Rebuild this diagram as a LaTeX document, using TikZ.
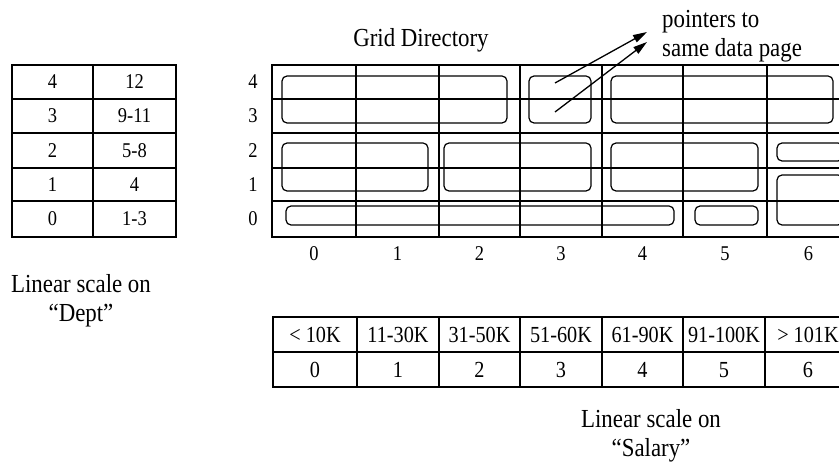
\documentclass[tikz,border=0pt]{standalone}
\usepackage{fontspec}
\setmainfont[FakeStretch=0.88]{Liberation Serif}
\usetikzlibrary{arrows.meta}
\begin{document}
\begin{tikzpicture}[x=1pt,y=-1pt,
  gridline/.style={line width=2.6pt},
  frame/.style={line width=2pt},
  bucket/.style={draw,line width=1.2pt,rounded corners=5pt},
  cell/.style={font=\fontsize{21}{25}\selectfont, inner sep=0pt, anchor=center},
  scell/.style={font=\fontsize{23}{27}\selectfont, inner sep=0pt, anchor=center},
  lbl/.style={font=\fontsize{26}{29}\selectfont, inner sep=0pt, align=center},
  ptr/.style={line width=1.3pt,-{Triangle[length=14pt,width=8pt]}}]
\useasboundingbox (0,0) rectangle (839,462);
\clip (0,0) rectangle (839,462);

% ---------- left table (Dept) ----------
\draw[frame] (12,65) rectangle (176,237);
\draw[gridline] (93,65) -- (93,237);
\foreach \y in {99,133,168,201} \draw[gridline] (12,\y) -- (176,\y);
\node[cell] (d4a) at (52.5,82) {4};   \node[cell] (d4b) at (134.5,82) {12};
\node[cell] (d3a) at (52.5,116) {3};  \node[cell] (d3b) at (134.5,116) {9-11};
\node[cell] (d2a) at (52.5,150.5) {2};\node[cell] (d2b) at (134.5,150.5) {5-8};
\node[cell] (d1a) at (52.5,184.5) {1};\node[cell] (d1b) at (134.5,184.5) {4};
\node[cell] (d0a) at (52.5,219) {0};  \node[cell] (d0b) at (134.5,219) {1-3};
\node[lbl] (deptlbl) at (81,301) {Linear scale on\\“Dept”};

% ---------- grid directory ----------
\node[lbl] (title) at (421,40.5) {Grid Directory};
\draw[frame] (272,65) rectangle (852,237);
\foreach \x in {356,439,520,602,683,767} \draw[gridline] (\x,65) -- (\x,237);
\foreach \y in {99,133,168,201} \draw[gridline] (272,\y) -- (852,\y);

% row labels
\node[cell] (r4) at (253,82) {4};
\node[cell] (r3) at (253,116) {3};
\node[cell] (r2) at (253,150.5) {2};
\node[cell] (r1) at (253,184.5) {1};
\node[cell] (r0) at (253,219) {0};
% column labels
\node[cell] (c0) at (314,254) {0};
\node[cell] (c1) at (397.5,254) {1};
\node[cell] (c2) at (479.5,254) {2};
\node[cell] (c3) at (561,254) {3};
\node[cell] (c4) at (642.5,254) {4};
\node[cell] (c5) at (725,254) {5};
\node[cell] (c6) at (808.5,254) {6};

% data page buckets
\draw[bucket] (282,76) rectangle (507,123);
\draw[bucket] (529,76) rectangle (591,123);
\draw[bucket] (611,76) rectangle (833,123);
\draw[bucket] (282,143) rectangle (428,191);
\draw[bucket] (444,143) rectangle (591,191);
\draw[bucket] (611,143) rectangle (758,191);
\draw[bucket] (777,143) rectangle (843,161);
\draw[bucket] (777,175) rectangle (843,225);
\draw[bucket] (286,206) rectangle (674,225);
\draw[bucket] (695,206) rectangle (758,225);

% pointers
\coordinate (p1s) at (555,83);  \coordinate (p1e) at (647,32);
\coordinate (p2s) at (555,112); \coordinate (p2e) at (647,42);
\draw[ptr] (p1s) -- (p1e);
\draw[ptr] (p2s) -- (p2e);
\node[lbl, align=left, anchor=north west] (ptrlbl) at (662,10) {pointers to\\same data page};

% ---------- bottom table (Salary) ----------
\draw[frame] (273,317) rectangle (852,387);
\draw[gridline] (273,352) -- (852,352);
\foreach \x in {357,439,520,602,683,765} \draw[gridline] (\x,317) -- (\x,387);
\node[scell] (s0) at (315,335) {< 10K};
\node[scell] (s1) at (398,335) {11-30K};
\node[scell] (s2) at (479.5,335) {31-50K};
\node[scell] (s3) at (561,335) {51-60K};
\node[scell] (s4) at (642.5,335) {61-90K};
\node[scell] (s5) at (724,335) {91-100K};
\node[scell] (s6) at (808,335) {> 101K};
\node[scell] (t0) at (315,370) {0};
\node[scell] (t1) at (398,370) {1};
\node[scell] (t2) at (479.5,370) {2};
\node[scell] (t3) at (561,370) {3};
\node[scell] (t4) at (642.5,370) {4};
\node[scell] (t5) at (724,370) {5};
\node[scell] (t6) at (808,370) {6};
\node[lbl] (sallbl) at (651,435.5) {Linear scale on\\“Salary”};
\end{tikzpicture}
\end{document}
